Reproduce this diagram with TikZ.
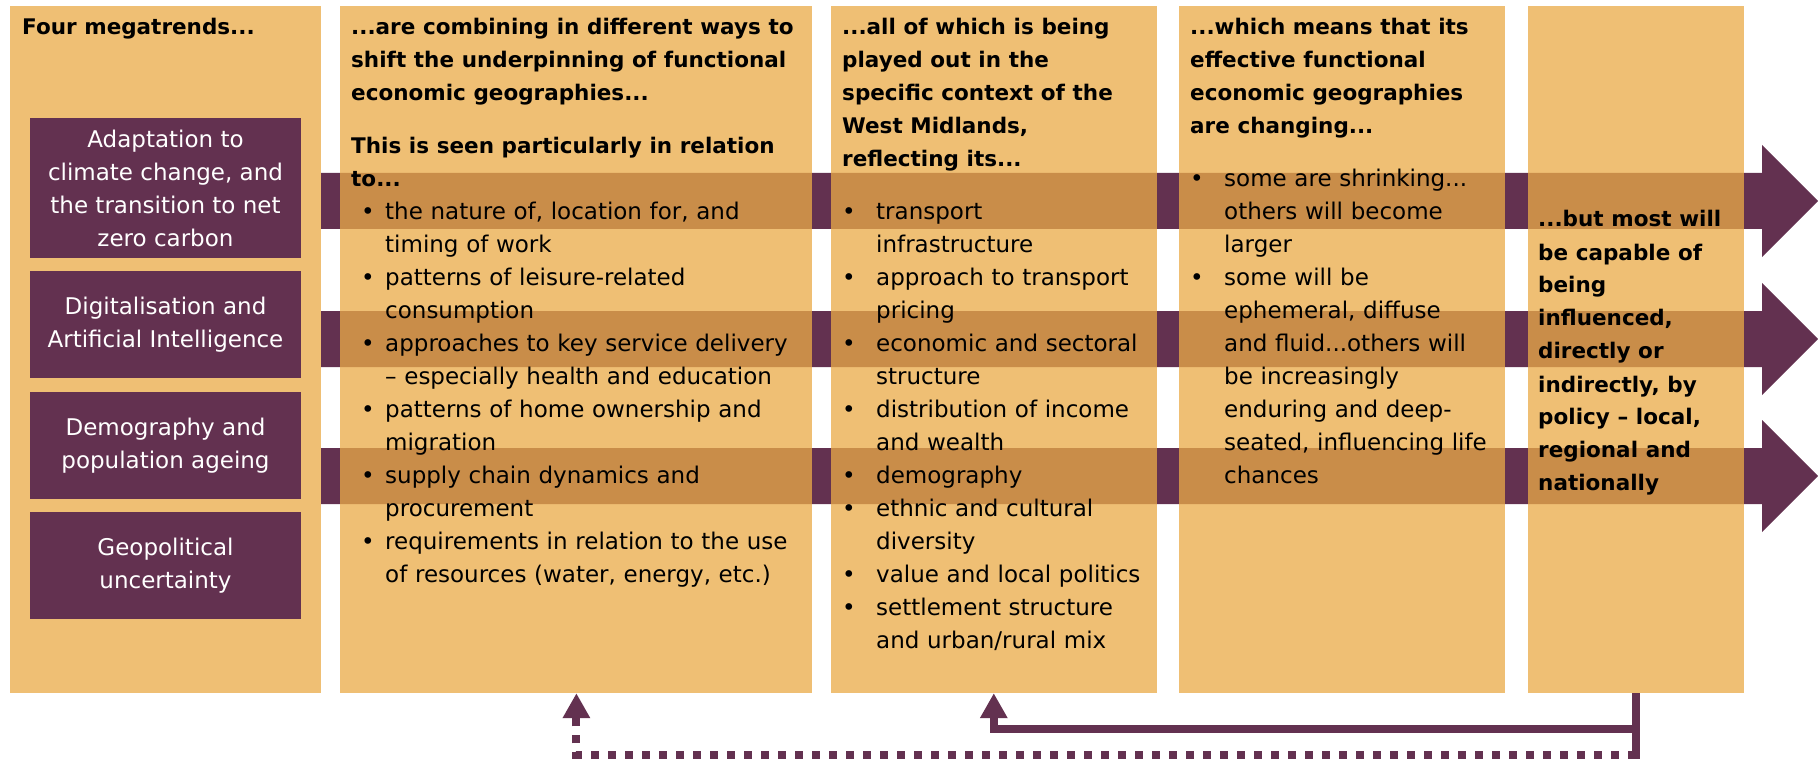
\documentclass[tikz,border=0pt]{standalone}
\usepackage{fontspec}
\setmainfont{DejaVu Sans}
\usetikzlibrary{positioning,arrows.meta}

\definecolor{plum}{RGB}{99,49,80}
\definecolor{sand}{RGB}{234,171,72}

\newcommand\hd[1]{{\fontsize{21.5}{33}\selectfont\bfseries #1\par}}
\newcommand\bul[2][0pt]{\par\noindent\hangindent=34pt\hangafter=1%
  \makebox[34pt][l]{\hspace{#1}\textbullet}#2}

\tikzset{
  panel/.style={fill=sand, fill opacity=0.76, inner sep=0pt, minimum height=687pt},
  trend/.style={fill=plum, text=white, align=center, inner sep=0pt, minimum width=271pt},
  txt/.style={anchor=base west, inner sep=0pt, align=left, text width=480pt},
  band/.style={fill=plum},
  loop/.style={draw=plum, line width=8pt},
  tip/.style={-{Triangle[width=26pt,length=25pt]}}
}

\begin{document}
\begin{tikzpicture}[x=1pt, y=-1pt, node distance=13pt, font=\fontsize{23}{33}\selectfont]
\useasboundingbox (0,0) rectangle (1818,762);

% the three arrows run underneath the columns
\foreach \y in {201,339,476}
  \fill[band] (321,\y-28) -- (1762,\y-28) -- (1762,\y-56) -- (1818,\y)
    -- (1762,\y+56) -- (1762,\y+28) -- (321,\y+28) -- cycle;

% columns
\node[panel, minimum width=311pt] (c1) at (165.5,349.5) {};
\node[panel, minimum width=472pt, right=19pt of c1] (c2) {};
\node[panel, minimum width=326pt, right=18pt of c2] (c3) {};
\node[panel, minimum width=326pt, right=22pt of c3] (c4) {};
\node[panel, minimum width=216pt, right=22pt of c4] (c5) {};

% the four megatrends
\node[trend, minimum height=140pt] (t1) at (165.5,188)
  {Adaptation to\\ climate change, and\\ the transition to net\\ zero carbon};
\node[trend, minimum height=107pt, below=of t1] (t2)
  {Digitalisation and\\ Artificial Intelligence};
\node[trend, minimum height=107pt, below=of t2] (t3)
  {Demography and\\ population ageing};
\node[trend, minimum height=107pt, below=of t3] (t4)
  {Geopolitical\\ uncertainty};

% column texts
\node[txt] (l1) at (22,35) {\hd{Four megatrends...}};

\node[txt] (l2) at (351,35) {%
  \hd{...are combining in different ways to\newline
      shift the underpinning of functional\newline
      economic geographies...}
  \vspace{20pt}
  \hd{This is seen particularly in relation\newline to...}
  \bul[10pt]{the nature of, location for, and\newline timing of work}
  \bul[10pt]{patterns of leisure-related\newline consumption}
  \bul[10pt]{approaches to key service delivery\newline – especially health and education}
  \bul[10pt]{patterns of home ownership and\newline migration}
  \bul[10pt]{supply chain dynamics and\newline procurement}
  \bul[10pt]{requirements in relation to the use\newline of resources (water, energy, etc.)}\par};

\node[txt] (l3) at (842,35) {%
  \hd{...all of which is being\newline played out in the\newline
      specific context of the\newline West Midlands,\newline reflecting its...}
  \vspace{20pt}
  \bul{transport\newline infrastructure}
  \bul{approach to transport\newline pricing}
  \bul{economic and sectoral\newline structure}
  \bul{distribution of income\newline and wealth}
  \bul{demography}
  \bul{ethnic and cultural\newline diversity}
  \bul{value and local politics}
  \bul{settlement structure\newline and urban/rural mix}\par};

\node[txt] (l4) at (1190,35) {%
  \hd{...which means that its\newline effective functional\newline
      economic geographies\newline are changing...}
  \vspace{20pt}
  \bul{some are shrinking...\newline others will become\newline larger}
  \bul{some will be\newline ephemeral, diffuse\newline and fluid...others will\newline
       be increasingly\newline enduring and deep-\newline seated, influencing life\newline chances}\par};

\node[txt] (l5) at (1538,227) {%
  \hd{...but most will\newline be capable of\newline being\newline influenced,\newline
      directly or\newline indirectly, by\newline policy – local,\newline
      regional and\newline nationally}};

% feedback from the last column
\coordinate[below=36pt of c5.south] (j1);
\coordinate[below=62pt of c5.south] (j2);
\draw[loop, shorten >=-4pt] (c5.south) -- (j2);
\draw[loop, tip] (j1) -| (c3.south);
\draw[loop, tip, dash pattern=on 8pt off 9pt] (j2) -| (c2.south);
\end{tikzpicture}
\end{document}
